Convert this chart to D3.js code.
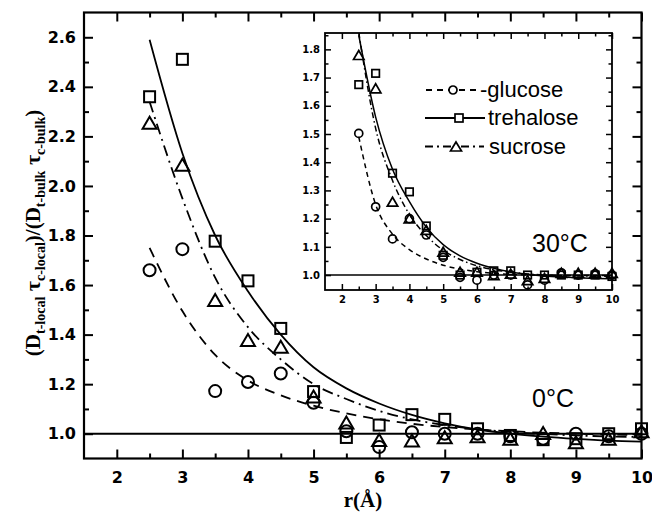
<!DOCTYPE html>
<html>
<head>
<meta charset="utf-8">
<script src="https://cdn.jsdelivr.net/npm/d3@7"></script>
<style>
  html, body { margin: 0; padding: 0; background: #fff; }
  svg { display: block; }
</style>
</head>
<body>
<svg id="chart" width="652" height="517"></svg>
<script>
// Distances r (Å) at which the local/bulk ratio was evaluated
const rValues = [2.5, 3, 3.5, 4, 4.5, 5, 5.5, 6, 6.5, 7, 7.5, 8, 8.5, 9, 9.5, 10];

// 0 °C — computed ratios
const glucose0   = [1.66, 1.745, 1.172, 1.209, 1.243, 1.125, 1.01, 0.946, 1.006, 1.0, 1.0, 0.99, 0.98, 1.0, 0.99, 1.0];
const trehalose0 = [2.36, 2.511, 1.777, 1.617, 1.425, 1.17, 0.985, 1.035, 1.077, 1.058, 1.02, 0.993, 0.976, 0.98, 1.0, 1.02];
const sucrose0   = [2.255, 2.086, 1.54, 1.378, 1.351, 1.15, 1.045, 0.975, 0.973, 0.986, 0.99, 0.98, 1.003, 0.966, 0.98, 1.01];

// 0 °C — fitted decay curves, sampled at rValues
const glucoseFit0   = [1.75, 1.495, 1.318, 1.215, 1.155, 1.113, 1.082, 1.058, 1.04, 1.027, 1.017, 1.01, 1.004, 1.0, 0.997, 0.995];
const trehaloseFit0 = [2.59, 2.132, 1.80, 1.575, 1.40, 1.268, 1.183, 1.122, 1.076, 1.042, 1.017, 1.0, 0.988, 0.979, 0.972, 0.968];
const sucroseFit0   = [2.34, 1.95, 1.63, 1.43, 1.30, 1.20, 1.14, 1.092, 1.058, 1.035, 1.018, 1.007, 0.999, 0.993, 0.989, 0.987];

// 30 °C — computed ratios
const glucose30   = [1.502, 1.242, 1.128, 1.2, 1.142, 1.063, 0.992, 0.982, 1.0, 1.0, 0.965, 0.982, 1.008, 1.0, 1.005, 1.0];
const trehalose30 = [1.675, 1.715, 1.361, 1.295, 1.174, 1.07, 1.0, 1.01, 1.015, 1.015, 1.0, 1.0, 1.0, 1.0, 1.0, 0.995];
const sucrose30   = [1.78, 1.662, 1.26, 1.201, 1.16, 1.083, 1.012, 1.012, 1.0, 1.005, 0.982, 0.99, 1.008, 1.008, 1.008, 1.008];

// 30 °C — fitted decay curves, sampled at rValues
const glucoseFit30   = [1.49, 1.25, 1.145, 1.09, 1.057, 1.035, 1.021, 1.012, 1.006, 1.002, 1.0, 0.999, 0.998, 0.998, 0.998, 0.998];
const trehaloseFit30 = [1.85, 1.56, 1.375, 1.26, 1.17, 1.108, 1.068, 1.042, 1.024, 1.011, 1.003, 0.997, 0.993, 0.99, 0.988, 0.987];
const sucroseFit30   = [1.86, 1.52, 1.335, 1.215, 1.14, 1.088, 1.055, 1.033, 1.019, 1.01, 1.004, 1.0, 0.998, 0.997, 0.996, 0.996];

// Tick values
const xMajorTicks      = [2, 3, 4, 5, 6, 7, 8, 9, 10];
const xMinorTicks      = [2.5, 3.5, 4.5, 5.5, 6.5, 7.5, 8.5, 9.5];
const mainYMajorTicks  = [1.0, 1.2, 1.4, 1.6, 1.8, 2.0, 2.2, 2.4, 2.6];
const mainYMinorTicks  = [1.1, 1.3, 1.5, 1.7, 1.9, 2.1, 2.3, 2.5];
const insetYMajorTicks = [1.0, 1.1, 1.2, 1.3, 1.4, 1.5, 1.6, 1.7, 1.8];
const insetYMinorTicks = [1.05, 1.15, 1.25, 1.35, 1.45, 1.55, 1.65, 1.75, 1.85];

const seriesNames = ["-glucose", "trehalose", "sucrose"];

const svg = d3.select("#chart");
svg.append("rect").attr("width", 652).attr("height", 517).attr("fill", "#fff");

const defs = svg.append("defs");

function drawAxes(g, x, y, o) {
  const [x0, x1] = x.range();
  const [y0, y1] = y.range(); // y0 bottom, y1 top
  const style = sel => {
    sel.select(".domain").remove();
    sel.selectAll(".tick line").attr("stroke", "#000").attr("stroke-width", o.tickWidth);
    sel.selectAll(".tick text")
      .attr("fill", "#000")
      .attr("font-family", "'DejaVu Sans', sans-serif")
      .attr("font-weight", "bold")
      .attr("font-size", o.fontSize);
  };
  // bottom
  g.append("g").attr("transform", `translate(0,${y0})`)
    .call(d3.axisBottom(x).tickValues(xMajorTicks).tickSize(-o.major).tickSizeOuter(0)
      .tickPadding(o.padX).tickFormat(d3.format("d"))).call(style);
  g.append("g").attr("transform", `translate(0,${y0})`)
    .call(d3.axisBottom(x).tickValues(xMinorTicks).tickSize(-o.minor).tickSizeOuter(0).tickFormat("")).call(style);
  // top
  g.append("g").attr("transform", `translate(0,${y1})`)
    .call(d3.axisTop(x).tickValues(xMajorTicks).tickSize(-o.major).tickSizeOuter(0).tickFormat("")).call(style);
  g.append("g").attr("transform", `translate(0,${y1})`)
    .call(d3.axisTop(x).tickValues(xMinorTicks).tickSize(-o.minor).tickSizeOuter(0).tickFormat("")).call(style);
  // left
  g.append("g").attr("transform", `translate(${x0},0)`)
    .call(d3.axisLeft(y).tickValues(o.yMajor).tickSize(-o.major).tickSizeOuter(0)
      .tickPadding(o.padY).tickFormat(d3.format(".1f"))).call(style);
  g.append("g").attr("transform", `translate(${x0},0)`)
    .call(d3.axisLeft(y).tickValues(o.yMinor).tickSize(-o.minor).tickSizeOuter(0).tickFormat("")).call(style);
  // right
  g.append("g").attr("transform", `translate(${x1},0)`)
    .call(d3.axisRight(y).tickValues(o.yMajor).tickSize(-o.major).tickSizeOuter(0).tickFormat("")).call(style);
  g.append("g").attr("transform", `translate(${x1},0)`)
    .call(d3.axisRight(y).tickValues(o.yMinor).tickSize(-o.minor).tickSizeOuter(0).tickFormat("")).call(style);
  // frame
  g.append("rect")
    .attr("x", x0).attr("y", y1).attr("width", x1 - x0).attr("height", y0 - y1)
    .attr("fill", "none").attr("stroke", "#000").attr("stroke-width", o.frameWidth);
}

function trianglePath(w, h) {
  return `M0,${-h / 2}L${w / 2},${h / 2}L${-w / 2},${h / 2}Z`;
}

function drawSymbols(g, x, y, values, kind, s, sw) {
  const pts = rValues.map((r, i) => [x(r), y(values[i])]);
  const sel = g.append("g").attr("fill", "none").attr("stroke", "#000").attr("stroke-width", sw);
  if (kind === "circle") {
    sel.selectAll("circle").data(pts).join("circle")
      .attr("cx", d => d[0]).attr("cy", d => d[1]).attr("r", s.r);
  } else if (kind === "square") {
    sel.selectAll("rect").data(pts).join("rect")
      .attr("x", d => d[0] - s.sq / 2).attr("y", d => d[1] - s.sq / 2)
      .attr("width", s.sq).attr("height", s.sq);
  } else {
    sel.selectAll("path").data(pts).join("path")
      .attr("transform", d => `translate(${d[0]},${d[1]})`)
      .attr("d", trianglePath(s.tw, s.th));
  }
}

function drawPanel(o) {
  const x = d3.scaleLinear().domain([1.5, 10]).range([o.left, o.right]);
  const y = d3.scaleLinear().domain(o.yDomain).range([o.bottom, o.top]);
  const g = svg.append("g");

  if (o.background) {
    g.append("rect").attr("x", o.left).attr("y", o.top)
      .attr("width", o.right - o.left).attr("height", o.bottom - o.top).attr("fill", "#fff");
  }

  defs.append("clipPath").attr("id", o.id + "-clip")
    .append("rect").attr("x", o.left).attr("y", o.top)
    .attr("width", o.right - o.left).attr("height", o.bottom - o.top);

  const plot = g.append("g").attr("clip-path", `url(#${o.id}-clip)`);

  // reference line at ratio = 1
  plot.append("line")
    .attr("x1", o.left).attr("x2", o.right)
    .attr("y1", y(1)).attr("y2", y(1))
    .attr("stroke", "#000").attr("stroke-width", o.refWidth);

  const line = d3.line().x((d, i) => x(rValues[i])).y(d => y(d)).curve(d3.curveMonotoneX);

  plot.append("path").attr("d", line(o.fits[0])).attr("fill", "none")
    .attr("stroke", "#000").attr("stroke-width", o.lineWidth).attr("stroke-dasharray", o.dash);
  plot.append("path").attr("d", line(o.fits[1])).attr("fill", "none")
    .attr("stroke", "#000").attr("stroke-width", o.lineWidth);
  plot.append("path").attr("d", line(o.fits[2])).attr("fill", "none")
    .attr("stroke", "#000").attr("stroke-width", o.lineWidth).attr("stroke-dasharray", o.dashDot);

  drawSymbols(g, x, y, o.points[0], "circle", o.sym, o.symWidth);
  drawSymbols(g, x, y, o.points[1], "square", o.sym, o.symWidth);
  drawSymbols(g, x, y, o.points[2], "triangle", o.sym, o.symWidth);

  drawAxes(g, x, y, o);
  return { g, x, y };
}

// Main panel (0 °C)
const main = drawPanel({
  id: "main", left: 84, right: 641.5, top: 12.5, bottom: 458.5, yDomain: [0.9, 2.7],
  yMajor: mainYMajorTicks, yMinor: mainYMinorTicks,
  major: 9, minor: 5, tickWidth: 2, frameWidth: 2.2, fontSize: 16, padX: 13, padY: 8,
  refWidth: 2, lineWidth: 1.8, dash: "10,7", dashDot: "11,5,2,5",
  sym: { r: 6, sq: 11, tw: 14, th: 12 }, symWidth: 2,
  fits: [glucoseFit0, trehaloseFit0, sucroseFit0],
  points: [glucose0, trehalose0, sucrose0]
});

// Inset panel (30 °C)
const inset = drawPanel({
  id: "inset", left: 325, right: 612, top: 33, bottom: 290, yDomain: [0.947, 1.858],
  yMajor: insetYMajorTicks, yMinor: insetYMinorTicks, background: true,
  major: 6, minor: 3.5, tickWidth: 1.5, frameWidth: 1.8, fontSize: 10, padX: 6, padY: 5,
  refWidth: 1.5, lineWidth: 1.5, dash: "5,4", dashDot: "6,3,1.5,3",
  sym: { r: 4, sq: 7.5, tw: 10.5, th: 9 }, symWidth: 1.7,
  fits: [glucoseFit30, trehaloseFit30, sucroseFit30],
  points: [glucose30, trehalose30, sucrose30]
});

// Legend inside the inset
const legend = svg.append("g");
const legendRows = [
  { y: 90,  dash: "6,5", kind: "circle", sx: 453, x1: 426, x2: 476, tx: 480 },
  { y: 118, dash: null, kind: "square", sx: 459, x1: 425, x2: 485, tx: 488 },
  { y: 146.5, dash: "8,4,2,4", kind: "triangle", sx: 456, x1: 425, x2: 484, tx: 489 }
];
legendRows.forEach((row, i) => {
  legend.append("line").attr("x1", row.x1).attr("x2", row.x2).attr("y1", row.y).attr("y2", row.y)
    .attr("stroke", "#000").attr("stroke-width", 1.8).attr("stroke-dasharray", row.dash);
  const s = legend.append("g").attr("transform", `translate(${row.sx},${row.y})`);
  if (row.kind === "circle") {
    s.append("circle").attr("r", 4).attr("fill", "#fff").attr("stroke", "#000").attr("stroke-width", 1.7);
  } else if (row.kind === "square") {
    s.append("rect").attr("x", -4).attr("y", -4).attr("width", 8).attr("height", 8)
      .attr("fill", "#fff").attr("stroke", "#000").attr("stroke-width", 1.7);
  } else {
    s.append("path").attr("d", trianglePath(11, 9)).attr("fill", "#fff").attr("stroke", "#000").attr("stroke-width", 1.7);
  }
  legend.append("text").attr("x", row.tx).attr("y", row.y + 7)
    .attr("font-family", "'Liberation Sans', Arial, sans-serif").attr("font-size", 22)
    .text(seriesNames[i]);
});

// Temperature labels
svg.append("text").attr("x", 532).attr("y", 407)
  .attr("font-family", "'Liberation Sans', Arial, sans-serif").attr("font-size", 25)
  .text("0°C");
svg.append("text").attr("x", 532).attr("y", 252)
  .attr("font-family", "'Liberation Sans', Arial, sans-serif").attr("font-size", 25)
  .text("30°C");

// Axis titles
svg.append("text").attr("x", 363).attr("y", 507).attr("text-anchor", "middle")
  .attr("font-family", "'Liberation Serif', 'Times New Roman', serif").attr("font-weight", "bold")
  .attr("font-size", 21).text("r(Å)");

const yTitle = svg.append("text")
  .attr("transform", "translate(40,233) rotate(-90)")
  .attr("text-anchor", "middle")
  .attr("font-family", "'Liberation Serif', 'Times New Roman', serif")
  .attr("font-weight", "bold").attr("font-size", 21);
const titleParts = [
  ["(D", 0, 21], ["t-local", 5, 14], [" τ", -5, 22], ["c-local", 5, 14],
  [")/(D", -5, 21], ["t-bulk", 5, 14], [" τ", -5, 22], ["c-bulk", 5, 14], [")", -5, 21]
];
titleParts.forEach(([t, dy, fs]) => {
  yTitle.append("tspan").attr("dy", dy).attr("font-size", fs).text(t);
});
</script>
</body>
</html>
